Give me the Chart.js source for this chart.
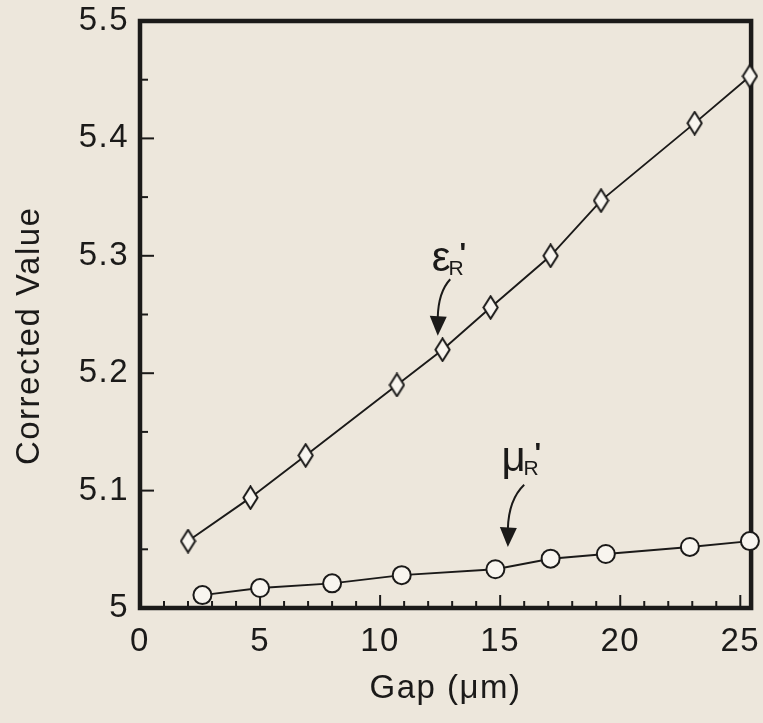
<!DOCTYPE html>
<html>
<head>
<meta charset="utf-8">
<script src="https://cdn.jsdelivr.net/npm/chart.js@4.4.1/dist/chart.umd.min.js"></script>
<style>
  html, body { margin: 0; padding: 0; background: #ede7dc; }
  #wrap { width: 763px; height: 723px; }
</style>
</head>
<body>
<div id="wrap"><canvas id="chart" width="763" height="723"></canvas></div>
<script>
// values
const epsGap = [2.0, 4.6, 6.9, 10.7, 12.6, 14.6, 17.1, 19.2, 23.1, 25.4];
const epsVal = [5.057, 5.094, 5.130, 5.190, 5.220, 5.256, 5.300, 5.347, 5.413, 5.453];
const muGap = [2.6, 5.0, 8.0, 10.9, 14.8, 17.1, 19.4, 22.9, 25.4];
const muVal = [5.011, 5.017, 5.021, 5.028, 5.033, 5.042, 5.046, 5.052, 5.057];

const xTicks = [0, 5, 10, 15, 20, 25];
const xTickLabels = ['0', '5', '10', '15', '20', '25'];
const yTicks = [5, 5.1, 5.2, 5.3, 5.4, 5.5];
const yTickLabels = ['5', '5.1', '5.2', '5.3', '5.4', '5.5'];

// curve labels and their arrows, in data units
const curveLabels = [
    { sym: 'ε', x: 12.15, y: 5.287, from: [12.92, 5.280], tip: [12.4, 5.232] },
    { sym: 'μ', x: 15.05, y: 5.117, from: [16.0, 5.105], tip: [15.32, 5.052] }
];

const ink = '#1b1a19';
const family = '"Liberation Sans", Arial, Helvetica, sans-serif';

// tall narrow diamond marker
function diamondMarker() {
    const c = document.createElement('canvas');
    c.width = 17;
    c.height = 25;
    const g = c.getContext('2d');
    g.beginPath();
    g.moveTo(8.5, 1.3);
    g.lineTo(15.6, 12.5);
    g.lineTo(8.5, 23.7);
    g.lineTo(1.4, 12.5);
    g.closePath();
    g.fillStyle = '#f8f5ef';
    g.fill();
    g.lineWidth = 2;
    g.strokeStyle = ink;
    g.stroke();
    return c;
}

const spacing = {
    id: 'spacing',
    beforeLayout(chart) { chart.ctx.letterSpacing = '1.5px'; },
    beforeDraw(chart) { chart.ctx.letterSpacing = '1.5px'; }
};

const frame = {
    id: 'frame',
    beforeDatasetsDraw(chart) {
        const { ctx, chartArea: a, scales } = chart;
        ctx.save();
        ctx.strokeStyle = ink;
        ctx.lineWidth = 2;
        // minor + major ticks on the x axis, pointing in
        for (let v = 0; v <= 25; v++) {
            const px = scales.x.getPixelForValue(v);
            const len = v % 5 === 0 ? 13 : 7;
            ctx.beginPath();
            ctx.moveTo(px, a.bottom);
            ctx.lineTo(px, a.bottom - len);
            ctx.stroke();
        }
        // ticks on the y axis
        for (let i = 0; i <= 10; i++) {
            const v = 5 + i * 0.05;
            const py = scales.y.getPixelForValue(v);
            const len = i % 2 === 0 ? 14 : 8;
            ctx.beginPath();
            ctx.moveTo(a.left, py);
            ctx.lineTo(a.left + len, py);
            ctx.stroke();
        }
        ctx.lineWidth = 4.5;
        ctx.strokeRect(a.left, a.top, a.right - a.left, a.bottom - a.top);
        ctx.restore();
    }
};

const notes = {
    id: 'notes',
    afterDatasetsDraw(chart) {
        const { ctx, scales } = chart;
        const sx = v => scales.x.getPixelForValue(v);
        const sy = v => scales.y.getPixelForValue(v);
        ctx.save();
        ctx.fillStyle = ink;
        ctx.strokeStyle = ink;
        ctx.letterSpacing = '0px';
        ctx.textBaseline = 'alphabetic';
        ctx.textAlign = 'left';
        curveLabels.forEach(n => {
            const x = sx(n.x), y = sy(n.y);
            ctx.font = '42px ' + family;
            ctx.fillText(n.sym, x, y);
            const w = ctx.measureText(n.sym).width;
            ctx.font = '21px ' + family;
            ctx.fillText('R', x + w - 2, y + 4);
            ctx.font = 'bold 28px ' + family;
            ctx.fillText("'", x + w + 9, y - 9);

            // curved arrow
            const S = [sx(n.from[0]), sy(n.from[1])];
            const T = [sx(n.tip[0]), sy(n.tip[1])];
            const H = [T[0], T[1] - 20];
            ctx.lineWidth = 2;
            ctx.beginPath();
            ctx.moveTo(S[0], S[1]);
            ctx.quadraticCurveTo(H[0] + (S[0] - H[0]) * 0.05, S[1] + (H[1] - S[1]) * 0.35, H[0], H[1] + 2);
            ctx.stroke();
            ctx.beginPath();
            ctx.moveTo(H[0] - 8, H[1]);
            ctx.lineTo(H[0] + 9, H[1] + 1);
            ctx.lineTo(T[0], T[1]);
            ctx.closePath();
            ctx.fill();
        });
        ctx.restore();
    }
};

const tickFont = { family: family, size: 33 };
const titleFont = { family: family, size: 33 };

new Chart(document.getElementById('chart'), {
    type: 'line',
    data: {
        datasets: [
            {
                label: "ε'R",
                data: epsGap.map((g, i) => ({ x: g, y: epsVal[i] })),
                borderColor: ink,
                borderWidth: 1.9,
                pointStyle: diamondMarker(),
                pointRadius: 10,
                clip: false
            },
            {
                label: "μ'R",
                data: muGap.map((g, i) => ({ x: g, y: muVal[i] })),
                borderColor: ink,
                borderWidth: 1.9,
                pointStyle: 'circle',
                pointRadius: 9,
                pointBorderWidth: 2,
                pointBackgroundColor: '#f8f5ef',
                pointBorderColor: ink,
                clip: false
            }
        ]
    },
    options: {
        responsive: false,
        animation: false,
        layout: { padding: { top: 21, right: 2, left: 0, bottom: 0 } },
        plugins: {
            legend: { display: false },
            tooltip: { enabled: false }
        },
        scales: {
            x: {
                type: 'linear',
                min: 0,
                max: 25.45,
                grid: { display: false, drawTicks: false },
                border: { display: false },
                afterBuildTicks: s => { s.ticks = xTicks.map(v => ({ value: v })); },
                afterFit: s => { s.height = 115; s.paddingLeft = 0; s.paddingRight = 0; },
                ticks: {
                    padding: 14,
                    maxRotation: 0,
                    color: ink,
                    font: tickFont,
                    callback: (v, i) => xTickLabels[i]
                },
                title: {
                    display: true,
                    text: 'Gap (μm)',
                    color: ink,
                    font: titleFont,
                    padding: { top: 0, bottom: 14 }
                }
            },
            y: {
                type: 'linear',
                min: 5,
                max: 5.5,
                grid: { display: false, drawTicks: false },
                border: { display: false },
                afterBuildTicks: s => { s.ticks = yTicks.map(v => ({ value: v })); },
                afterFit: s => { s.width = 140; s.paddingTop = 0; s.paddingBottom = 0; },
                ticks: {
                    padding: 11,
                    color: ink,
                    font: tickFont,
                    callback: (v, i) => yTickLabels[i]
                },
                title: {
                    display: true,
                    text: 'Corrected Value    ',
                    color: ink,
                    font: titleFont,
                    padding: { top: 10, bottom: 0 }
                }
            }
        }
    },
    plugins: [spacing, frame, notes]
});
</script>
</body>
</html>
